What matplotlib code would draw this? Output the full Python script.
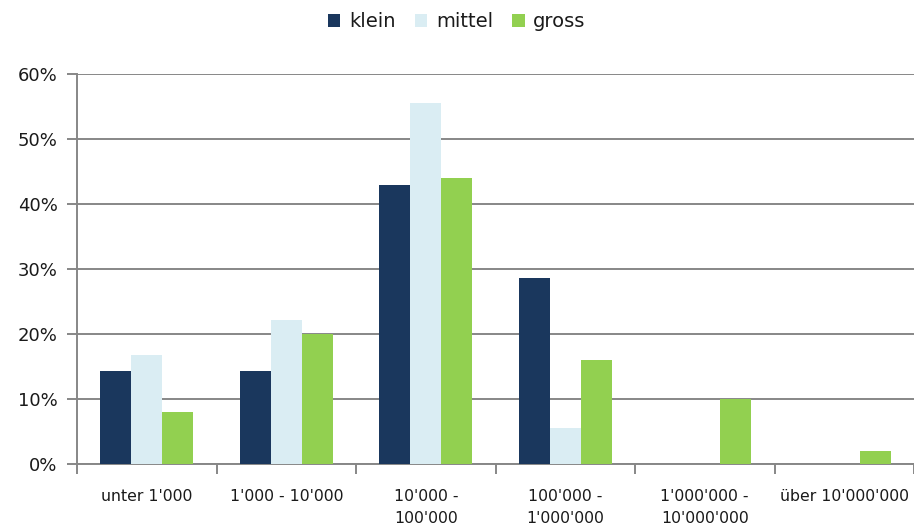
import numpy as np
import matplotlib.pyplot as plt
from matplotlib.ticker import PercentFormatter

categories = ["unter 1'000", "1'000 - 10'000", "10'000 -\n100'000",
              "100'000 -\n1'000'000", "1'000'000 -\n10'000'000", "über 10'000'000"]
klein = [14.3, 14.3, 42.9, 28.6, 0, 0]
mittel = [16.7, 22.2, 55.6, 5.6, 0, 0]
gross = [8, 20, 44, 16, 10, 2]

series = [("klein", klein, "#1a375d"),
          ("mittel", mittel, "#daedf3"),
          ("gross", gross, "#92d050")]

plt.rcParams['font.family'] = ['DejaVu Sans']
plt.rcParams['text.color'] = '#1a1a1a'
grid_c = "#878787"

fig = plt.figure(figsize=(9.14, 5.28), dpi=100)
ax = fig.add_axes([77 / 914, 1 - 464 / 528, 1 - 77 / 914, 390 / 528])

x = np.arange(len(categories))
w = 0.222
for i, (name, vals, col) in enumerate(series):
    ax.bar(x + (i - 1) * w, vals, width=w, color=col, label=name, zorder=3)

ax.set_xlim(-0.5, len(categories) - 0.5)
ax.set_ylim(0, 60)
ax.set_yticks(np.arange(0, 61, 10))
ax.yaxis.set_major_formatter(PercentFormatter(decimals=0))
ax.grid(axis='y', color=grid_c, linewidth=1.4, zorder=0)

# category boundaries get the tick marks, labels sit in the middle
ax.set_xticks(np.arange(-0.5, len(categories), 1))
ax.set_xticklabels([])
ax.set_xticks(x, minor=True)
ax.set_xticklabels(categories, minor=True, fontsize=11.3, linespacing=1.6,
                   color='#1a1a1a')
ax.tick_params(axis='x', which='minor', length=0, pad=18)
ax.tick_params(axis='x', which='major', length=7, width=1.4, color=grid_c)
ax.tick_params(axis='y', length=7, width=1.4, color=grid_c, labelsize=13, pad=7,
               labelcolor='#1a1a1a')

for s in ['top', 'right']:
    ax.spines[s].set_visible(False)
for s in ['left', 'bottom']:
    ax.spines[s].set_color(grid_c)
    ax.spines[s].set_linewidth(1.4)

fig.legend(loc='upper center', bbox_to_anchor=(0.5, 1.01), ncol=3, frameon=False,
           fontsize=14, handlelength=0.62, handleheight=0.62, handletextpad=0.45,
           columnspacing=1.0)

fig.savefig("out.png", dpi=100)
